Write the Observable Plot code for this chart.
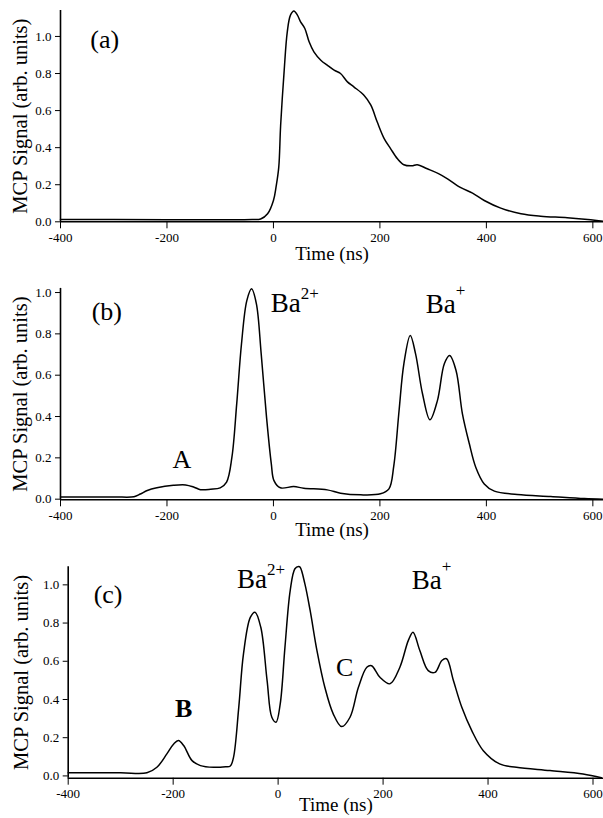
<!DOCTYPE html>
<html>
<head>
<meta charset="utf-8">
<script src="https://cdn.jsdelivr.net/npm/d3@7"></script>
<script src="https://cdn.jsdelivr.net/npm/@observablehq/plot@0.6"></script>
<style>
  html, body { margin: 0; padding: 0; background: #fff; }
  #chart { position: relative; width: 603px; height: 818px; background: #fff; overflow: hidden; }
</style>
</head>
<body>
<div id="chart"></div>
<script>
// ---------- data ----------
const xTicks = [-400, -200, 0, 200, 400, 600];
const yTicks = [0, 0.2, 0.4, 0.6, 0.8, 1.0];
const xLabel = "Time (ns)";
const yLabel = "MCP Signal (arb. units)";

// panel (a)
const timeA = [-400,-300,-200,-100,-40,-24,-11,0,5,10,13.5,20,26,32,38.5,45,51,59,67,76,89,101,114,126,139,151,170,183,195,208,220,233,245,260,270,289,310,327,352,374,396,427,465,502,552,596,620];
const signalA = [0.012,0.012,0.011,0.011,0.012,0.015,0.043,0.115,0.19,0.295,0.52,0.809,1.025,1.115,1.137,1.115,1.079,1.043,0.971,0.917,0.872,0.845,0.818,0.80,0.755,0.728,0.683,0.629,0.538,0.449,0.395,0.34,0.308,0.302,0.308,0.286,0.26,0.232,0.184,0.155,0.115,0.074,0.043,0.030,0.022,0.011,0.003];

// panel (b)
const timeB = [-400,-300,-262,-250,-237,-219,-188,-165,-149,-137,-118,-100,-88,-78,-69,-60,-50,-41,-32,-23,-13,-4,1,13,38,57,101,126,164,201,217,226,236,245,257,267,280,294,308,321,331,343,355,368,380,396,415,458,521,584,620];
const signalB = [0.010,0.011,0.012,0.025,0.042,0.055,0.067,0.069,0.058,0.046,0.048,0.055,0.083,0.203,0.461,0.752,0.961,1.018,0.945,0.703,0.397,0.171,0.09,0.055,0.061,0.053,0.045,0.029,0.021,0.026,0.050,0.16,0.429,0.655,0.792,0.703,0.510,0.384,0.477,0.655,0.695,0.623,0.413,0.268,0.155,0.074,0.039,0.023,0.013,0.003,0.0];

// panel (c)
const timeC = [-400,-300,-250,-231,-212,-199,-190,-180,-164,-148,-123,-100,-91,-85,-75,-66,-53,-44,-33,-21,-12,-4,4,13,23,32,39,42,51,61,74,89,105,121,137,153,169,178,194,213,232,248,257,270,286,299,312,321,334,350,369,391,422,454,518,581,616];
const signalC = [0.016,0.016,0.016,0.045,0.115,0.167,0.185,0.159,0.080,0.054,0.045,0.048,0.052,0.097,0.359,0.639,0.830,0.857,0.778,0.499,0.307,0.281,0.377,0.673,0.970,1.084,1.096,1.092,1.005,0.866,0.656,0.464,0.325,0.258,0.307,0.464,0.569,0.577,0.516,0.482,0.569,0.708,0.752,0.656,0.551,0.542,0.604,0.613,0.499,0.359,0.237,0.132,0.063,0.045,0.028,0.010,-0.010];

// annotations (data coordinates)
const panelNamesA = [{t: -317, v: 0.98, text: "(a)"}];
const panelNamesB = [{t: -313, v: 0.908, text: "(b)"}, {t: -172, v: 0.192, text: "A"}];
const panelNamesC = [{t: -324, v: 0.949, text: "(c)"}, {t: 127, v: 0.564, text: "C"}];
const boldNamesC = [{t: -180, v: 0.351, text: "B"}];
const ionsB = [{t: -5, v: 0.947, base: "Ba", sup: "2+"}, {t: 286, v: 0.942, base: "Ba", sup: "+"}];
const ionsC = [{t: -78.5, v: 1.028, base: "Ba", sup: "2+"}, {t: 254.5, v: 1.022, base: "Ba", sup: "+"}];

// ---------- drawing ----------
const serif = "\"Liberation Serif\", \"Times New Roman\", serif";
const toRows = (ts, vs) => ts.map((t, i) => ({t, v: vs[i]}));

function panel(cfg) {
  const rows = toRows(cfg.times, cfg.values);
  const marks = [
    Plot.ruleY([cfg.yDomain[0]], {stroke: "black", strokeWidth: 1.6}),
    Plot.ruleX([cfg.xDomain[0]], {stroke: "black", strokeWidth: 1.6}),
    Plot.line(rows, {x: "t", y: "v", stroke: "black", strokeWidth: 1.5, curve: "catmull-rom"}),
    Plot.text([yLabel], {text: d => d, frameAnchor: "left", textAnchor: "middle", lineAnchor: "middle", rotate: -90, dx: cfg.yLabelDx, fontSize: 20.5, fontFamily: serif, fill: "black"}),
    Plot.text([xLabel], {text: d => d, frameAnchor: "bottom", textAnchor: "middle", lineAnchor: "middle", dy: cfg.xLabelDy, fontSize: 19, fontFamily: serif, fill: "black"}),
    Plot.text(cfg.names, {x: "t", y: "v", text: "text", fontSize: 26, fontFamily: serif, fill: "black"})
  ];
  if (cfg.bold) marks.push(Plot.text(cfg.bold, {x: "t", y: "v", text: "text", fontSize: 26, fontWeight: "bold", fontFamily: serif, fill: "black"}));
  if (cfg.ions) {
    marks.push(Plot.text(cfg.ions, {x: "t", y: "v", text: "base", textAnchor: "start", fontSize: 27, fontFamily: serif, fill: "black"}));
    marks.push(Plot.text(cfg.ions.filter(d => d.sup.length > 1), {x: "t", y: "v", text: "sup", textAnchor: "start", dx: 30, dy: -10, fontSize: 17, fontFamily: serif, fill: "black"}));
    marks.push(Plot.text(cfg.ions.filter(d => d.sup.length === 1), {x: "t", y: "v", text: "sup", textAnchor: "start", dx: 30, dy: -14, fontSize: 17, fontFamily: serif, fill: "black"}));
  }
  const svg = Plot.plot({
    width: 603,
    height: cfg.height,
    marginLeft: cfg.marginLeft,
    marginRight: 0,
    marginTop: cfg.marginTop,
    marginBottom: cfg.marginBottom,
    style: {fontFamily: serif, fontSize: "13px", color: "black", background: "white", overflow: "visible"},
    x: {domain: cfg.xDomain, ticks: xTicks, tickFormat: d => String(d), tickSize: 7, tickPadding: 4, label: null},
    y: {domain: cfg.yDomain, ticks: yTicks, tickFormat: d3.format(".1f"), tickSize: 5, tickPadding: 4, label: null},
    marks
  });
  svg.style.position = "absolute";
  svg.style.top = cfg.top + "px";
  svg.style.left = "0px";
  document.getElementById("chart").appendChild(svg);
  return svg;
}

panel({times: timeA, values: signalA, xDomain: [-400, 620], yDomain: [0, 1.14],
  top: 0, height: 262, marginTop: 10, marginBottom: 40.7, marginLeft: 60,
  names: panelNamesA, yLabelDx: -40, xLabelDy: 32});

panel({times: timeB, values: signalB, xDomain: [-400, 620], yDomain: [-0.003, 1.02],
  top: 270, height: 272, marginTop: 17.9, marginBottom: 42.7, marginLeft: 60,
  names: panelNamesB, ions: ionsB, yLabelDx: -40, xLabelDy: 30});

panel({times: timeC, values: signalC, xDomain: [-400, 620], yDomain: [-0.012, 1.095],
  top: 545, height: 273, marginTop: 21.2, marginBottom: 40.3, marginLeft: 67.7,
  names: panelNamesC, bold: boldNamesC, ions: ionsC, yLabelDx: -47, xLabelDy: 27});
</script>
</body>
</html>
